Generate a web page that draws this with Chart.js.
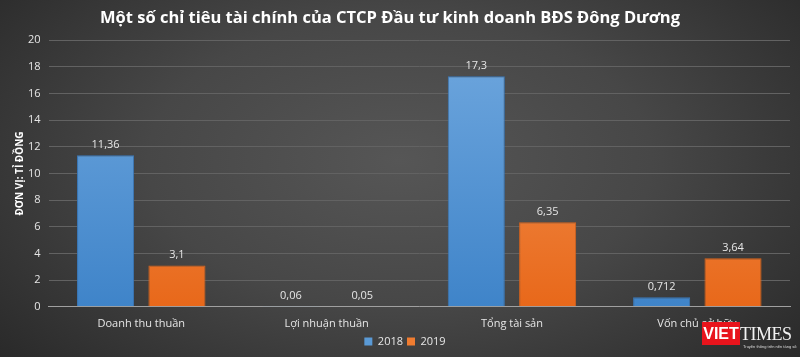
<!DOCTYPE html>
<html><head><meta charset="utf-8">
<script src="https://cdn.jsdelivr.net/npm/chart.js@4/dist/chart.umd.min.js"></script>
<style>
html,body{margin:0;padding:0;}
#wrap{position:relative;width:800px;height:357px;background:radial-gradient(ellipse 70% 90% at 50% 45%, #565656 0%, #474747 45%, #323232 80%, #262626 100%);overflow:hidden;}
#logo{position:absolute;left:702px;top:322px;width:90px;height:30px;}
#logo .v{position:absolute;left:0;top:0;width:38px;height:23px;background:#e8141c;color:#fff;font-family:"Liberation Sans",sans-serif;font-weight:bold;font-size:16px;line-height:23px;text-align:center;}
#logo .t{position:absolute;left:38px;top:1px;color:#f2f2f2;font-family:"Liberation Serif",serif;font-size:18px;line-height:22px;letter-spacing:-0.5px;}
#logo .s{position:absolute;left:41px;top:22px;color:#ddd;font-family:"Liberation Sans",sans-serif;font-size:4px;line-height:5px;white-space:nowrap;}
</style></head>
<body><div id="wrap"><canvas id="c" width="800" height="357"></canvas>
<div id="logo"><span class="v">VIET</span><span class="t">TIMES</span><span class="s">Truyền thông trên nền tảng số</span></div></div>
<script>
const categories = ["Doanh thu thuần", "Lợi nhuận thuần", "Tổng tài sản", "Vốn chủ sở hữu"];
const values2018 = [11.36, 0.06, 17.3, 0.712];
const values2019 = [3.1, 0.05, 6.35, 3.64];
const labels2018 = ["11,36", "0,06", "17,3", "0,712"];
const labels2019 = ["3,1", "0,05", "6,35", "3,64"];
const seriesNames = ["2018", "2019"];
const titleText = "Một số chỉ tiêu tài chính của CTCP Đầu tư kinh doanh BĐS Đông Dương";
const yTitle = "ĐƠN VỊ: TỈ ĐỒNG";

function grad(top, bottom){
  return function(ctx){
    const ch = ctx.chart; const a = ch.chartArea;
    if(!a) return bottom;
    const g = ch.ctx.createLinearGradient(0, a.top, 0, a.bottom);
    g.addColorStop(0, top); g.addColorStop(1, bottom);
    return g;
  };
}

const extras = {
  id:'extras',
  afterDatasetsDraw(chart){
    const ctx = chart.ctx;
    const lbls = [labels2018, labels2019];
    ctx.save();
    ctx.font = '11px "Open Sans", sans-serif';
    ctx.fillStyle = '#e6e6e6';
    ctx.textAlign = 'center';
    ctx.textBaseline = 'bottom';
    chart.data.datasets.forEach((ds, di) => {
      chart.getDatasetMeta(di).data.forEach((bar, i) => {
        ctx.fillText(lbls[di][i], bar.x, bar.y - 5);
      });
    });
    const a = chart.chartArea;
    ctx.translate(20, (a.top + a.bottom) / 2);
    ctx.rotate(-Math.PI / 2);
    ctx.font = 'bold 10px "Open Sans", sans-serif';
    ctx.fillStyle = '#ffffff';
    ctx.textBaseline = 'middle';
    ctx.fillText(yTitle, 0, 0);
    ctx.restore();
    ctx.save();
    ctx.font = 'bold 16.5px "Open Sans", sans-serif';
    ctx.fillStyle = '#ffffff';
    ctx.textAlign = 'center';
    ctx.textBaseline = 'middle';
    ctx.fillText(titleText, 390, 18);
    ctx.restore();
  }
};

new Chart(document.getElementById('c'), {
  type: 'bar',
  data: {
    labels: categories,
    datasets: [
      {label: seriesNames[0], data: values2018, backgroundColor: grad('#6fa7de', '#3f84c9'), borderColor: '#3a78b8', borderWidth: 1, categoryPercentage: 0.77, barPercentage: 0.8},
      {label: seriesNames[1], data: values2019, backgroundColor: grad('#f49a5c', '#e8681a'), borderColor: '#d8641c', borderWidth: 1, categoryPercentage: 0.77, barPercentage: 0.8}
    ]
  },
  options: {
    responsive: false,
    animation: false,
    layout: {padding: {left: 20, right: 10, top: 0, bottom: 0}},
    scales: {
      x: {
        grid: {display: false},
        border: {color: '#a0a0a0', width: 1},
        ticks: {color: '#e6e6e6', font: {family: '"Open Sans", sans-serif', size: 11}, padding: 2}
      },
      y: {
        min: 0, max: 20,
        ticks: {stepSize: 2, color: '#e6e6e6', font: {family: '"Open Sans", sans-serif', size: 11}, padding: 8},
        grid: {color: '#626262', lineWidth: 1, drawTicks: false},
        border: {display: false}
      }
    },
    plugins: {
      title: {display: true, text: titleText, color: 'rgba(0,0,0,0)', font: {family: '"Open Sans", sans-serif', size: 16, weight: 'bold'}, padding: {top: 7, bottom: 14}},
      legend: {position: 'bottom', labels: {color: '#e6e6e6', boxWidth: 8, boxHeight: 8, padding: 4, font: {family: '"Open Sans", sans-serif', size: 11},
        generateLabels(chart){
          return chart.data.datasets.map((d,i)=>({text: d.label, fillStyle: ['#5a9ad6','#f07c30'][i], strokeStyle: ['#5a9ad6','#f07c30'][i], lineWidth: 0, datasetIndex: i, fontColor: '#e6e6e6'}));
        }}},
      tooltip: {enabled: false}
    }
  },
  plugins: [extras]
});
</script></body></html>
